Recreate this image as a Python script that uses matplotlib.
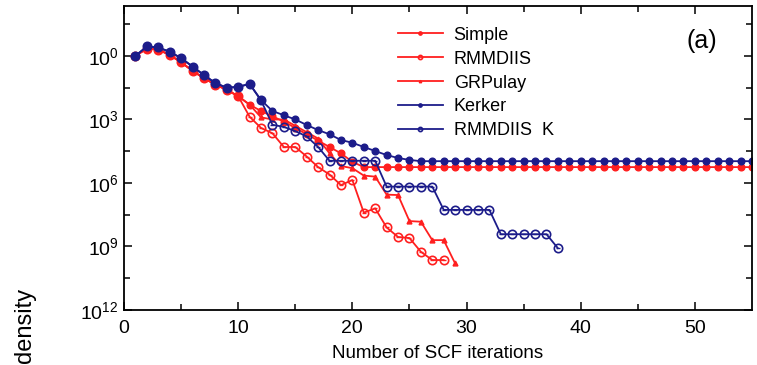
import numpy as np
import matplotlib
matplotlib.use("Agg")
import matplotlib.pyplot as plt
from matplotlib.ticker import FixedLocator, FixedFormatter

plt.rcParams['font.family'] = ['Liberation Sans', 'DejaVu Sans']
plt.rcParams['mathtext.fontset'] = 'custom'
plt.rcParams['mathtext.rm'] = 'Liberation Sans'
plt.rcParams['mathtext.it'] = 'Liberation Sans'

# log10 of residual
head = [0.0, 0.35, 0.3, 0.05, -0.3, -0.7, -1.05, -1.35, -1.6, -1.9]
head_k = [0.0, 0.45, 0.4, 0.2, -0.1, -0.5, -0.9, -1.28, -1.5, -1.46]

simple_x = list(range(1, 56))
simple_y = head + [-2.3, -2.6, -2.85, -3.1, -3.4, -3.7, -4.0, -4.3, -4.6, -5.0] + [-5.25] * 35

rmm_x = list(range(1, 29))
rmm_y = head + [-2.87, -3.4, -3.65, -4.3, -4.3, -4.75, -5.25, -5.6, -6.1, -5.86,
                -7.4, -7.2, -8.1, -8.55, -8.6, -9.25, -9.64, -9.64]

grp_x = list(range(1, 30))
grp_y = head + [-2.3, -2.9, -3.0, -3.0, -3.3, -3.6, -3.9, -4.6, -5.2, -5.3,
                -5.65, -5.7, -6.55, -6.57, -7.8, -7.83, -8.7, -8.7, -9.8]

ker_x = list(range(1, 56))
ker_y = head_k + [-1.32, -2.08, -2.6, -2.8, -3.0, -3.26, -3.5, -3.7, -3.97, -4.1,
                  -4.3, -4.49, -4.68, -4.82, -4.91] + [-4.97] * 30

rmk_x = list(range(1, 39))
rmk_y = head_k + [-1.32, -2.1, -3.25, -3.35, -3.55, -3.8, -4.3] + [-4.95] * 5 \
    + [-6.17] * 5 + [-7.27] * 5 + [-8.42] * 5 + [-9.08]

red = '#ff1f1f'
blue = '#1c1c8a'

W, H = 757, 365
fig = plt.figure(figsize=(W / 100, H / 100), dpi=100)
ax = fig.add_axes([124 / W, (H - 310) / H, (752 - 124) / W, (310 - 6) / H])

def p(y):
    return 10.0 ** np.array(y)

ax.plot(simple_x, p(simple_y), color=red, lw=1.3, marker='o', ms=4.8, mec=red, mfc=red, label='Simple')
ax.plot(rmm_x, p(rmm_y), color=red, lw=1.3, marker='o', ms=6, mec=red, mfc='none', mew=1.2, label='RMMDIIS')
ax.plot(rmm_x, p(rmm_y), ls='none', marker='_', ms=3, mec=red, mew=1.0)
ax.plot(grp_x, p(grp_y), color=red, lw=1.3, marker='^', ms=3.5, mec=red, mfc=red, label='GRPulay')
ax.plot(ker_x, p(ker_y), color=blue, lw=1.3, marker='o', ms=4.8, mec=blue, mfc=blue, label='Kerker')
ax.plot(rmk_x, p(rmk_y), color=blue, lw=1.3, marker='o', ms=6, mec=blue, mfc='none', mew=1.2, label='RMMDIIS  K')
ax.plot(rmk_x, p(rmk_y), ls='none', marker='_', ms=3, mec=blue, mew=1.0)

ax.set_yscale('log')
ax.set_xlim(0, 55)
ax.set_ylim(1e-12, 10 ** 2.36)

ax.xaxis.set_major_locator(FixedLocator([0, 10, 20, 30, 40, 50]))
ax.xaxis.set_minor_locator(FixedLocator([5, 15, 25, 35, 45]))
ymaj = [1e0, 1e-3, 1e-6, 1e-9, 1e-12]
ax.yaxis.set_major_locator(FixedLocator(ymaj))
ax.yaxis.set_major_formatter(FixedFormatter([r'$10^{0}$', r'$10^{3}$', r'$10^{6}$', r'$10^{9}$', r'$10^{12}$']))
ax.yaxis.set_minor_locator(FixedLocator(10.0 ** np.array([1.5, -1.5, -4.5, -7.5, -10.5])))
ax.yaxis.set_minor_formatter(FixedFormatter([''] * 5))
ax.tick_params(which='both', direction='in', top=True, right=True, labelsize=14, width=1.1)
ax.tick_params(axis='x', pad=7)
ax.tick_params(axis='y', pad=4)
ax.tick_params(which='major', length=6)
ax.tick_params(which='minor', length=4)
for s in ax.spines.values():
    s.set_linewidth(1.3)

ax.set_xlabel('Number of SCF iterations', fontsize=13.5, labelpad=6)
fig.text(25 / W, 2 / H, 'density', rotation=90, fontsize=17, ha='center', va='bottom')
ax.text(0.92, 0.885, '(a)', transform=ax.transAxes, fontsize=18, ha='center', va='center')

leg = ax.legend(loc='upper left', bbox_to_anchor=(0.41, 0.985), frameon=False, fontsize=13,
                handlelength=2.5, handletextpad=0.6, labelspacing=0.38, markerscale=0.5,
                borderaxespad=0.5)

fig.savefig('out.png', dpi=100)
